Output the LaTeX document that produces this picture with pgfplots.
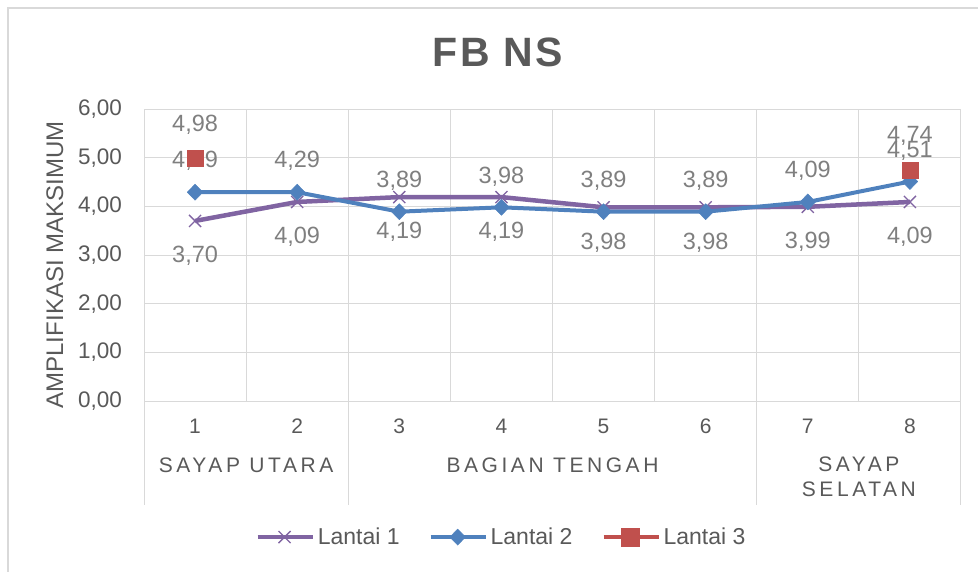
\documentclass[border=0pt]{standalone}
\usepackage{fontspec}
\setmainfont{Liberation Sans}
\usepackage{pgfplots}
\pgfplotsset{compat=1.18}
\definecolor{lt1}{HTML}{8064A2}
\definecolor{lt2}{HTML}{4F81BD}
\definecolor{lt3}{HTML}{C0504D}
\definecolor{gridgray}{HTML}{D9D9D9}
\definecolor{txtgray}{HTML}{595959}
\definecolor{lblgray}{HTML}{7F7F7F}

\begin{document}
\begin{tikzpicture}
\path[use as bounding box] (0,0) rectangle (978pt,571pt);
\draw[gridgray, line width=1.3pt] (8pt,-10pt) -- (8pt,563pt) -- (990pt,563pt);

\begin{axis}[
    at={(144pt,170pt)}, anchor=south west,
    width=817pt, height=292pt, scale only axis,
    xmin=0.5, xmax=8.5, ymin=0, ymax=6,
    xtick={1,...,8}, xticklabels={1,2,3,4,5,6,7,8},
    ytick={0,1,...,6},
    minor xtick={0.5,1.5,...,8.5},
    xminorgrids=true, ymajorgrids=true,
    major grid style={gridgray, line width=1pt},
    minor grid style={gridgray, line width=1pt},
    axis line style={draw=none},
    tick style={draw=none},
    ticklabel style={font=\fontsize{21}{25}\selectfont, text=txtgray, inner sep=0pt},
    yticklabel style={font=\fontsize{22.5}{26}\selectfont},
    xticklabel shift=18pt, yticklabel shift=22pt,
    clip=false,
    legend columns=3,
    legend image code/.code={\draw[mark repeat=2, mark phase=2, #1] plot coordinates {(0pt,0pt)(27pt,0pt)(55pt,0pt)};},
    legend style={at={(0.438,-0.466)}, anchor=center, draw=none, fill=none,
        font=\fontsize{23}{27}\selectfont, text=txtgray,
        nodes={inner sep=3pt},
        /tikz/every even column/.append style={column sep=26pt}},
    /pgf/number format/use comma,
    /pgf/number format/fixed,
    /pgf/number format/fixed zerofill,
    /pgf/number format/precision=2,
    /pgf/number format/assume math mode=true,
]

% Lantai 1
\addplot[lt1, line width=4.5pt, line join=round, mark=x, mark size=8.5pt,
    mark options={solid, line width=1.3pt},
    nodes near coords,
    every node near coord/.append style={font=\fontsize{23.5}{27}\selectfont, text=lblgray, anchor=center, yshift=-35pt}]
    coordinates {(1,3.70)(2,4.09)(3,4.19)(4,4.19)(5,3.98)(6,3.98)(7,3.99)(8,4.09)};
\addlegendentry{Lantai 1}

% Lantai 2
\addplot[lt2, line width=4pt, line join=round, mark=diamond*, mark size=8pt,
    mark options={solid, xscale=1.3, line width=0.5pt},
    nodes near coords,
    every node near coord/.append style={font=\fontsize{23.5}{27}\selectfont, text=lblgray, anchor=center, yshift=31pt}]
    coordinates {(1,4.29)(2,4.29)(3,3.89)(4,3.98)(5,3.89)(6,3.89)(7,4.09)(8,4.51)};
\addlegendentry{Lantai 2}

% Lantai 3 (only two points)
\addlegendimage{lt3, line width=4pt, mark=square*, mark size=7.5pt, mark options={solid}}
\addlegendentry{Lantai 3}
\addplot[lt3, only marks, mark=square*, mark size=8pt, forget plot,
    nodes near coords,
    every node near coord/.append style={font=\fontsize{23.5}{27}\selectfont, text=lblgray, anchor=center, yshift=34pt}]
    coordinates {(1,4.98)(8,4.74)};

% category group separators and labels
\draw[gridgray, line width=1pt] (axis cs:0.5,0) -- ++(0pt,-104pt);
\draw[gridgray, line width=1pt] (axis cs:2.5,0) -- ++(0pt,-104pt);
\draw[gridgray, line width=1pt] (axis cs:6.5,0) -- ++(0pt,-104pt);
\draw[gridgray, line width=1pt] (axis cs:8.5,0) -- ++(0pt,-104pt);
\begin{scope}[font=\fontsize{21}{25}\selectfont\addfontfeature{LetterSpace=17}, text=txtgray]
\node[anchor=center] at ([yshift=-64pt]axis cs:1.5,0) {SAYAP UTARA};
\node[anchor=center] at ([yshift=-64pt]axis cs:4.5,0) {BAGIAN TENGAH};
\node[anchor=center, align=center] at ([yshift=-76pt]axis cs:7.5,0) {SAYAP\\SELATAN};
\end{scope}
\end{axis}

\node[anchor=base, font=\fontsize{41}{48}\selectfont\bfseries\addfontfeature{LetterSpace=6}, text=txtgray] at (498pt,504pt) {FB NS};
\node[rotate=90, anchor=base, font=\fontsize{24}{28}\selectfont, text=txtgray] at (63pt,306pt) {AMPLIFIKASI MAKSIMUM};
\end{tikzpicture}
\end{document}
